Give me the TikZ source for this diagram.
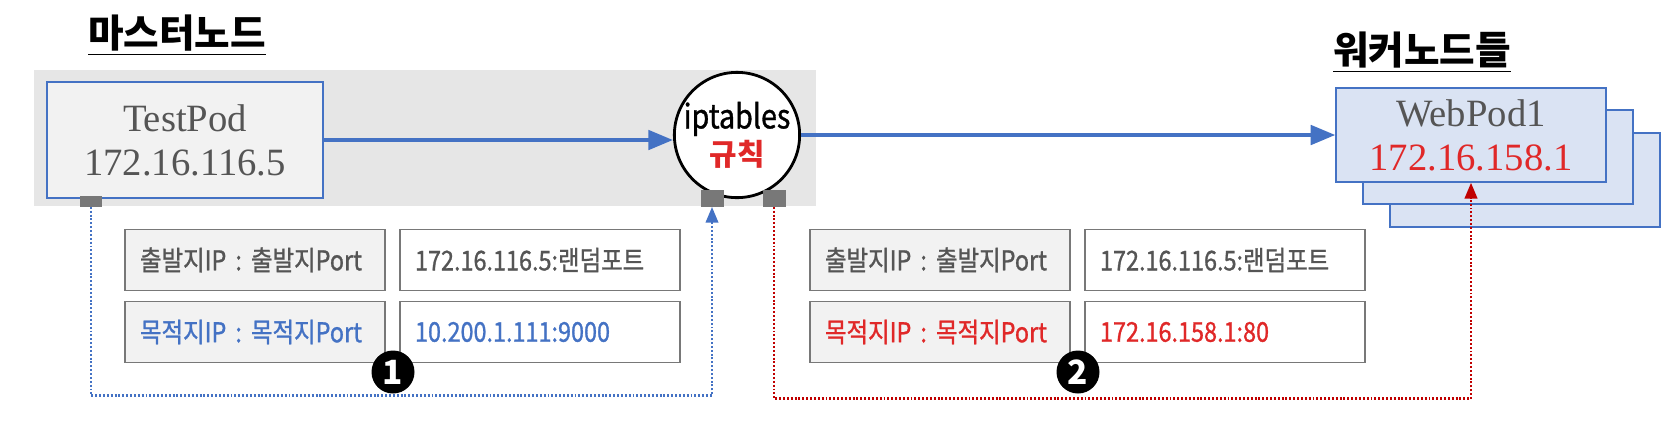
\documentclass[tikz,border=0pt]{standalone}
\usepackage{fontspec}
\setmainfont{Liberation Serif}
\newfontfamily\krfont{Noto Sans CJK KR}
\newfontfamily\krcell[FakeStretch=0.86, FakeBold=1]{Noto Sans CJK KR}
\usetikzlibrary{arrows.meta}

\definecolor{flowblue}{RGB}{68,114,196}
\definecolor{flowred}{RGB}{192,0,0}
\definecolor{textred}{RGB}{224,40,40}
\definecolor{bandgray}{RGB}{230,230,230}
\definecolor{boxgray}{RGB}{242,242,242}
\definecolor{podfill}{RGB}{218,227,243}
\definecolor{textgray}{RGB}{85,85,85}
\definecolor{portgray}{RGB}{120,120,120}

\begin{document}
\begin{tikzpicture}[
      x=0.02cm, y=-0.02cm,
      every node/.style={align=center},
      title/.style={font=\krfont\bfseries\fontsize{22}{26}\selectfont},
      pod/.style={draw=flowblue, line width=0.8pt, text=textgray,
        minimum width=5.4cm, minimum height=1.88cm,
        font=\fontsize{22}{25}\selectfont},
      rule/.style={circle, draw, line width=1.6pt, fill=white,
        minimum size=2.28cm, inner sep=0pt,
        font=\krcell\fontsize{19}{21}\selectfont},
      port/.style={fill=portgray, minimum width=0.46cm, minimum height=0.34cm, inner sep=0pt},
      cellkey/.style={draw=portgray, line width=1.1pt, fill=boxgray, text=textgray,
        minimum height=1.22cm, inner xsep=0.3cm, text width=4.6cm, align=left,
        font=\krcell\fontsize{15.5}{17}\selectfont},
      cellval/.style={cellkey, fill=white, text width=5.0cm},
      badge/.style={circle, fill=black, text=white, minimum size=0.86cm, inner sep=0pt,
        font=\krfont\bfseries\fontsize{19}{19}\selectfont},
      flow/.style={-{Triangle[length=14pt,width=11pt]}, line width=2.2pt, flowblue},
      hop/.style={-{Triangle[length=9pt,width=7pt]}, line width=1.6pt,
        dash pattern=on 1.1pt off 1.1pt}
    ]
      \useasboundingbox (0,0) rectangle (1676,434);

      % Master node
      \node[title] (mtitle) at (177,35) {\underline{마스터노드}};
      \fill[bandgray] (34,70) rectangle (816,206);
      \node[pod, fill=boxgray, minimum width=5.52cm, minimum height=2.32cm] (testpod) at (185,140)
        {TestPod\\172.16.116.5};
      \node[rule] (ipt) at (737,135) {iptables\\\textcolor{textred}{\krfont\bfseries\fontsize{17}{20}\selectfont 규칙}};
      \node[port, minimum height=0.22cm] (p1) at (91,201) {};
      \node[port] (p2) at (712,198) {};
      \node[port] (p3) at (774,198) {};

      % Worker nodes
      \node[title] (wtitle) at (1422,52) {\underline{워커노드들}};
      \node[pod, fill=podfill] (web3) at (1525,180) {};
      \node[pod, fill=podfill] (web2) at (1498,157) {};
      \node[pod, fill=podfill] (web1) at (1471,135) {WebPod1\\\textcolor{textred}{172.16.158.1}};

      % Packet before the rule
      \node[cellkey] (k1) at (255,260) {출발지IP : 출발지Port};
      \node[cellval] (v1) at (540,260) {172.16.116.5:랜덤포트};
      \node[cellkey, text=flowblue] (k2) at (255,332) {목적지IP : 목적지Port};
      \node[cellval, text=flowblue] (v2) at (540,332) {10.200.1.111:9000};
      \node[badge] (b1) at (393,372) {1};

      % Packet after the rule
      \node[cellkey] (k3) at (940,260) {출발지IP : 출발지Port};
      \node[cellval] (v3) at (1225,260) {172.16.116.5:랜덤포트};
      \node[cellkey, text=textred] (k4) at (940,332) {목적지IP : 목적지Port};
      \node[cellval, text=textred] (v4) at (1225,332) {172.16.158.1:80};
      \node[badge] (b2) at (1078,372) {2};

      % Arrows
      \draw[flow] (testpod) -- (testpod.east -| ipt.west);
      \draw[flow] (ipt.east |- web1.west) -- (web1.west);
      \draw[hop, flowblue] (p1.south) -- ++(0,189) -| (p2.south);
      \draw[hop, flowred] (p3.south) -- ++(0,192) -| (web1.south);
    \end{tikzpicture}
\end{document}
